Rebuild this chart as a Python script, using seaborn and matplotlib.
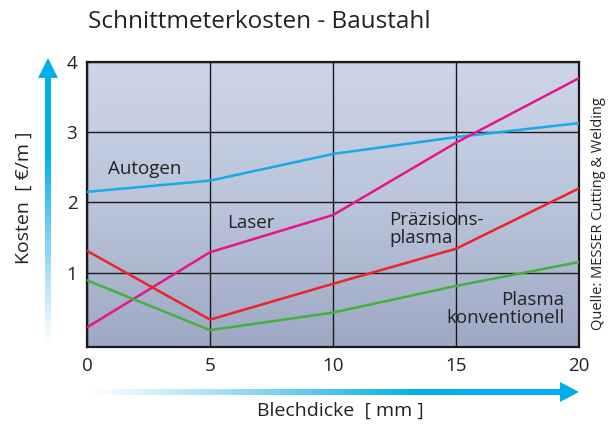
import numpy as np
import pandas as pd
import matplotlib
matplotlib.use("Agg")
import matplotlib.pyplot as plt
import seaborn as sns
from matplotlib.patches import Polygon
from matplotlib.colors import LinearSegmentedColormap

# data
dicke = [0, 5, 10, 15, 20]
autogen = [2.15, 2.31, 2.69, 2.93, 3.13]
laser = [0.22, 1.29, 1.82, 2.85, 3.77]
praez_plasma = [1.31, 0.33, 0.84, 1.34, 2.20]
plasma_konv = [0.89, 0.18, 0.43, 0.81, 1.15]

namen = ["Autogen", "Laser", "Präzisionsplasma", "Plasma konventionell"]
farben = ["#1aa9e6", "#e6158a", "#e8262b", "#45b03f"]

df = pd.DataFrame({
    "Blechdicke": dicke * 4,
    "Kosten": autogen + laser + praez_plasma + plasma_konv,
    "Verfahren": [n for n in namen for _ in dicke],
})

sns.set_style("white")
plt.rcParams["font.family"] = ["Open Sans", "DejaVu Sans"]

fig = plt.figure(figsize=(6.13, 4.25), dpi=100)
ax = fig.add_axes([87 / 613, 1 - 347 / 425, (579 - 87) / 613, (347 - 62) / 425])

# background gradient
grad = np.linspace(1, 0, 256).reshape(-1, 1)
bg = LinearSegmentedColormap.from_list("bg", ["#9ea8c4", "#bac4da", "#cdd6e8"])
ax.imshow(grad, cmap=bg, aspect="auto", extent=[0, 20, -0.06, 3.98],
          origin="upper", zorder=0)

sns.lineplot(data=df, x="Blechdicke", y="Kosten", hue="Verfahren",
             palette=dict(zip(namen, farben)), linewidth=1.8, legend=False,
             ax=ax, zorder=3)

ax.set_xlim(0, 20)
ax.set_ylim(-0.06, 3.98)
ax.set_xticks(dicke)
ax.set_yticks([1, 2, 3, 4])
ax.grid(True, color="#1a1a1a", linewidth=1.0, zorder=1)
for s in ax.spines.values():
    s.set_color("#1a1a1a")
    s.set_linewidth(1.6)
ax.tick_params(length=0, labelsize=13.5, colors="#222222", pad=7)
ax.set_xlabel("")
ax.set_ylabel("")
for gl in ax.get_xgridlines() + ax.get_ygridlines():
    gl.set_zorder(1)

fs = 13.5
ax.text(0.85, 2.48, "Autogen", fontsize=fs, color="#222222", va="center", zorder=4)
ax.text(5.7, 1.70, "Laser", fontsize=fs, color="#222222", va="center", zorder=4)
ax.text(12.3, 1.62, "Präzisions-\nplasma", fontsize=fs, color="#222222",
        va="center", linespacing=1.05, zorder=4)
ax.text(19.4, 0.48, "Plasma\nkonventionell", fontsize=fs, color="#222222",
        va="center", ha="right", multialignment="right", linespacing=1.05, zorder=4)

fig.text(88 / 613, 1 - 22 / 425, "Schnittmeterkosten - Baustahl", fontsize=17.5,
         color="#222222", va="center", ha="left")
fig.text(24 / 613, 1 - 198 / 425, "Kosten  [ €/m ]", fontsize=14, rotation=90,
         color="#222222", va="center", ha="center")
fig.text(340 / 613, 1 - 411 / 425, "Blechdicke  [ mm ]", fontsize=14,
         color="#222222", va="center", ha="center")
fig.text(598 / 613, 1 - 214 / 425, "Quelle: MESSER Cutting & Welding", fontsize=10.5,
         rotation=90, color="#222222", va="center", ha="center")

# gradient arrows in pixel coordinates
ov = fig.add_axes([0, 0, 1, 1], zorder=5)
ov.set_xlim(0, 613)
ov.set_ylim(425, 0)
ov.axis("off")
arrow_cmap = LinearSegmentedColormap.from_list("ar", ["#ffffff", "#8fd6f5", "#00b0ec", "#00aeef"])

# horizontal arrow
h = Polygon([(90, 389), (560, 389), (560, 382), (579, 392), (560, 402),
             (560, 395), (90, 395)], closed=True, facecolor="none", edgecolor="none")
ov.add_patch(h)
im = ov.imshow(np.linspace(0, 1, 256).reshape(1, -1), cmap=arrow_cmap, aspect="auto",
               extent=[90, 579, 402, 382], zorder=5)
im.set_clip_path(h)

# vertical arrow
v = Polygon([(45, 345), (45, 78), (38, 78), (48, 58), (58, 78), (51, 78),
             (51, 345)], closed=True, facecolor="none", edgecolor="none")
ov.add_patch(v)
im2 = ov.imshow(np.linspace(1, 0, 256).reshape(-1, 1), cmap=arrow_cmap, aspect="auto",
                extent=[38, 58, 345, 58], origin="upper", zorder=5)
im2.set_clip_path(v)

fig.savefig("out.png", dpi=100)
